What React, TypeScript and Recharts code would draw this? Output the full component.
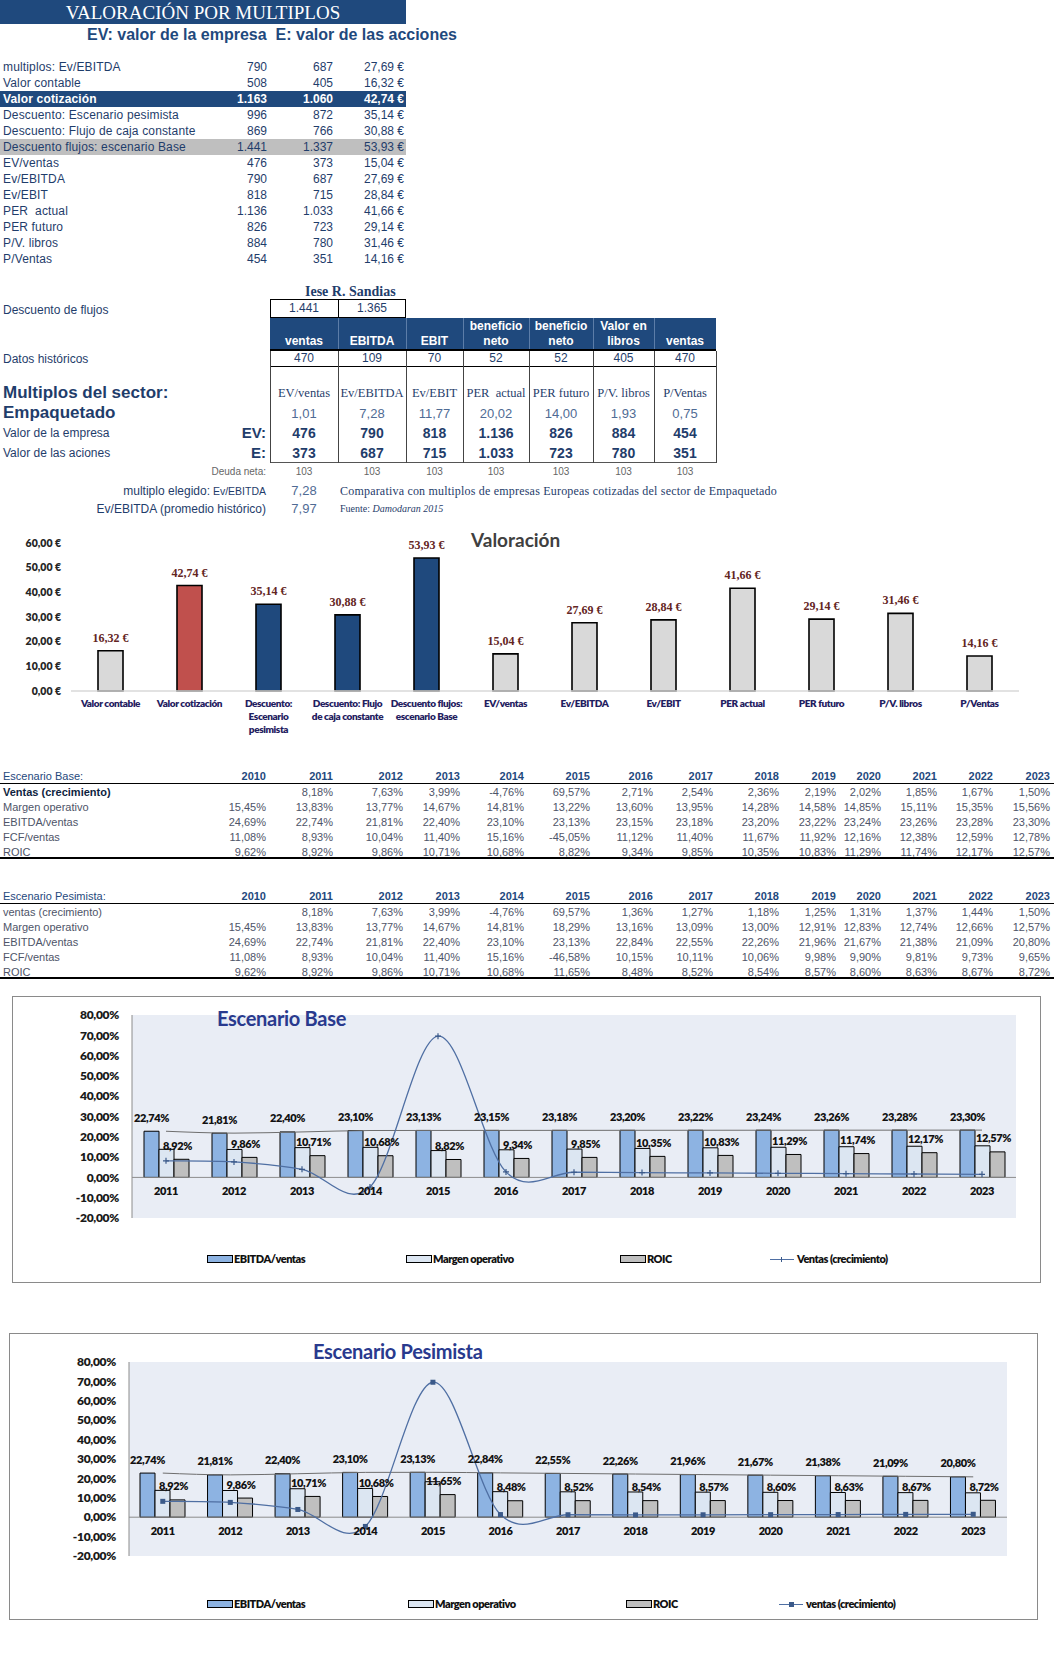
import React from 'react';
import {
  Bar,
  BarChart,
  CartesianGrid,
  Cell,
  ComposedChart,
  LabelList,
  Line,
  ReferenceLine,
  XAxis,
  YAxis,
} from 'recharts';

// ---------- valoración por múltiplos ----------
const METHODS = [
  'multiplos: Ev/EBITDA',
  'Valor contable',
  'Valor cotización',
  'Descuento: Escenario pesimista',
  'Descuento: Flujo de caja constante',
  'Descuento flujos: escenario Base',
  'EV/ventas',
  'Ev/EBITDA',
  'Ev/EBIT',
  'PER  actual',
  'PER futuro',
  'P/V. libros',
  'P/Ventas',
];
const METHOD_EV = [790, 508, 1163, 996, 869, 1441, 476, 790, 818, 1136, 826, 884, 454];
const METHOD_E = [687, 405, 1060, 872, 766, 1337, 373, 687, 715, 1033, 723, 780, 351];
const METHOD_PRICE = [27.69, 16.32, 42.74, 35.14, 30.88, 53.93, 15.04, 27.69, 28.84, 41.66, 29.14, 31.46, 14.16];

// ---------- múltiplos del sector ----------
const DCF_VALUES = [1441, 1365];
const HIST_HEADERS = ['ventas', 'EBITDA', 'EBIT', 'beneficio\nneto', 'beneficio\nneto', 'Valor en\nlibros', 'ventas'];
const HIST_VALUES = [470, 109, 70, 52, 52, 405, 470];
const SECTOR_MULTIPLES = ['EV/ventas', 'Ev/EBITDA', 'Ev/EBIT', 'PER  actual', 'PER futuro', 'P/V. libros', 'P/Ventas'];
const SECTOR_VALUES = [1.01, 7.28, 11.77, 20.02, 14.0, 1.93, 0.75];
const SECTOR_EV = [476, 790, 818, 1136, 826, 884, 454];
const SECTOR_E = [373, 687, 715, 1033, 723, 780, 351];
const NET_DEBT = [103, 103, 103, 103, 103, 103, 103];
const CHOSEN_MULTIPLE = 7.28;
const HIST_AVG_MULTIPLE = 7.97;

// ---------- gráfico valoración ----------
const VAL_CATEGORIES = [
  'Valor contable',
  'Valor cotización',
  'Descuento: Escenario pesimista',
  'Descuento: Flujo de caja constante',
  'Descuento flujos: escenario Base',
  'EV/ventas',
  'Ev/EBITDA',
  'Ev/EBIT',
  'PER  actual',
  'PER futuro',
  'P/V. libros',
  'P/Ventas',
];
// the same names as the axis shows them, wrapped
const VAL_TICK_LABELS = [
  'Valor contable',
  'Valor cotización',
  'Descuento:\nEscenario\npesimista',
  'Descuento: Flujo\nde caja constante',
  'Descuento flujos:\nescenario Base',
  'EV/ventas',
  'Ev/EBITDA',
  'Ev/EBIT',
  'PER  actual',
  'PER futuro',
  'P/V. libros',
  'P/Ventas',
];
const VAL_PRICE = [16.32, 42.74, 35.14, 30.88, 53.93, 15.04, 27.69, 28.84, 41.66, 29.14, 31.46, 14.16];
const VAL_TICKS = [0, 10, 20, 30, 40, 50, 60];

// ---------- escenarios ----------
const YEARS_ALL = ['2010', '2011', '2012', '2013', '2014', '2015', '2016', '2017', '2018', '2019', '2020', '2021', '2022', '2023'];
const BASE_ROWS = ['Ventas (crecimiento)', 'Margen operativo', 'EBITDA/ventas', 'FCF/ventas', 'ROIC'];
const PES_ROWS = ['ventas (crecimiento)', 'Margen operativo', 'EBITDA/ventas', 'FCF/ventas', 'ROIC'];

const BASE_VENTAS = [null, 8.18, 7.63, 3.99, -4.76, 69.57, 2.71, 2.54, 2.36, 2.19, 2.02, 1.85, 1.67, 1.5];
const BASE_MARGEN = [15.45, 13.83, 13.77, 14.67, 14.81, 13.22, 13.6, 13.95, 14.28, 14.58, 14.85, 15.11, 15.35, 15.56];
const BASE_EBITDA = [24.69, 22.74, 21.81, 22.4, 23.1, 23.13, 23.15, 23.18, 23.2, 23.22, 23.24, 23.26, 23.28, 23.3];
const BASE_FCF = [11.08, 8.93, 10.04, 11.4, 15.16, -45.05, 11.12, 11.4, 11.67, 11.92, 12.16, 12.38, 12.59, 12.78];
const BASE_ROIC = [9.62, 8.92, 9.86, 10.71, 10.68, 8.82, 9.34, 9.85, 10.35, 10.83, 11.29, 11.74, 12.17, 12.57];

const PES_VENTAS = [null, 8.18, 7.63, 3.99, -4.76, 69.57, 1.36, 1.27, 1.18, 1.25, 1.31, 1.37, 1.44, 1.5];
const PES_MARGEN = [15.45, 13.83, 13.77, 14.67, 14.81, 18.29, 13.16, 13.09, 13.0, 12.91, 12.83, 12.74, 12.66, 12.57];
const PES_EBITDA = [24.69, 22.74, 21.81, 22.4, 23.1, 23.13, 22.84, 22.55, 22.26, 21.96, 21.67, 21.38, 21.09, 20.8];
const PES_FCF = [11.08, 8.93, 10.04, 11.4, 15.16, -46.58, 10.15, 10.11, 10.06, 9.98, 9.9, 9.81, 9.73, 9.65];
const PES_ROIC = [9.62, 8.92, 9.86, 10.71, 10.68, 11.65, 8.48, 8.52, 8.54, 8.57, 8.6, 8.63, 8.67, 8.72];

const PCT_TICKS = [-20, -10, 0, 10, 20, 30, 40, 50, 60, 70, 80];

// ---------- estilos ----------
const SANS = '"Liberation Sans", Arial, sans-serif';
const SERIF = '"Liberation Serif", "Times New Roman", serif';
const LATO = 'Lato, "Open Sans", sans-serif';
const NAVY = '#1F497D';
const INK = '#1F3D6B';
const GREY_TXT = '#4E5468';
const PLOT_BG = '#E9EDF5';
const COL_X = [270, 338, 406, 463, 529, 593, 654, 716];
const YEAR_RIGHT = [266, 333, 403, 460, 524, 590, 653, 713, 779, 836, 881, 937, 993, 1050];
const VAL_COLORS: Record<string, string> = {
  'Valor cotización': '#C0504D',
  'Descuento: Escenario pesimista': '#1F497D',
  'Descuento: Flujo de caja constante': '#1F497D',
  'Descuento flujos: escenario Base': '#1F497D',
};

const thousands = (n: number) => String(n).replace(/\B(?=(\d{3})+(?!\d))/g, '.');
const dec2 = (n: number) => n.toFixed(2).replace('.', ',');
const euro = (n: number) => `${dec2(n)} €`;
const pct = (n: number) => `${dec2(n)}%`;

type TxtProps = {
  x: number;
  y: number;
  align?: 'left' | 'right' | 'center';
  size?: number;
  bold?: boolean;
  color?: string;
  font?: string;
  style?: React.CSSProperties;
  children: React.ReactNode;
};

function Txt({ x, y, align = 'left', size = 12, bold, color = INK, font = SANS, style, children }: TxtProps) {
  const w = 500;
  const left = align === 'left' ? x : align === 'right' ? x - w : x - w / 2;
  return (
    <div
      style={{
        position: 'absolute',
        left,
        top: y - 10,
        width: w,
        height: 20,
        lineHeight: '20px',
        textAlign: align,
        fontSize: size,
        fontWeight: bold ? 700 : 400,
        color,
        fontFamily: font,
        whiteSpace: 'pre',
        ...style,
      }}
    >
      {children}
    </div>
  );
}

function Rule({ x, y, w, h, color = '#000' }: { x: number; y: number; w: number; h: number; color?: string }) {
  return <div style={{ position: 'absolute', left: x, top: y, width: w, height: h, background: color }} />;
}

function TopTable() {
  return (
    <>
      <div
        style={{
          position: 'absolute',
          left: 0,
          top: 0,
          width: 406,
          height: 24,
          background: NAVY,
          color: '#fff',
          fontFamily: SERIF,
          fontSize: 19,
          lineHeight: '25px',
          textAlign: 'center',
        }}
      >
        VALORACIÓN POR MULTIPLOS
      </div>
      <Txt x={87} y={35} size={16} bold color={NAVY}>
        EV: valor de la empresa  E: valor de las acciones
      </Txt>
      {METHODS.map((m, i) => {
        const top = 59 + 16 * i;
        const dark = m === 'Valor cotización';
        const grey = m === 'Descuento flujos: escenario Base';
        const color = dark ? '#fff' : INK;
        return (
          <React.Fragment key={m}>
            {(dark || grey) && <Rule x={0} y={top} w={406} h={16} color={dark ? NAVY : '#BFBFBF'} />}
            <Txt x={3} y={top + 8} color={color} bold={dark} style={{ letterSpacing: 0.15 }}>{m}</Txt>
            <Txt x={267} y={top + 8} align="right" color={color} bold={dark}>{thousands(METHOD_EV[i])}</Txt>
            <Txt x={333} y={top + 8} align="right" color={color} bold={dark}>{thousands(METHOD_E[i])}</Txt>
            <Txt x={404} y={top + 8} align="right" color={color} bold={dark}>{euro(METHOD_PRICE[i])}</Txt>
          </React.Fragment>
        );
      })}
    </>
  );
}

function SectorTable() {
  const centers = COL_X.slice(0, -1).map((x, i) => (x + COL_X[i + 1]) / 2);
  return (
    <>
      <Txt x={305} y={292} size={14} bold font={SERIF} color={INK}>Iese R. Sandias</Txt>
      <Txt x={3} y={310}>Descuento de flujos</Txt>
      <div style={{ position: 'absolute', left: 270, top: 299, width: 136, height: 19, border: '1px solid #000', boxSizing: 'border-box' }} />
      <Rule x={338} y={299} w={1} h={19} />
      {DCF_VALUES.map((v, i) => (
        <Txt key={i} x={centers[i]} y={308} align="center">{thousands(v)}</Txt>
      ))}

      <Rule x={270} y={318} w={446} h={32} color={NAVY} />
      {HIST_HEADERS.map((h, i) => (
        <React.Fragment key={i}>
          {i > 0 && <Rule x={COL_X[i]} y={318} w={1} h={32} color="#5C7DA8" />}
          <div
            style={{
              position: 'absolute',
              left: COL_X[i],
              top: 317,
              width: COL_X[i + 1] - COL_X[i],
              height: 32,
              display: 'flex',
              alignItems: 'flex-end',
              justifyContent: 'center',
              textAlign: 'center',
              color: '#fff',
              fontWeight: 700,
              fontSize: 12,
              lineHeight: '15px',
              whiteSpace: 'pre',
              fontFamily: SANS,
            }}
          >
            {h}
          </div>
        </React.Fragment>
      ))}
      <Rule x={270} y={349} w={446} h={2} />

      <Txt x={3} y={359}>Datos históricos</Txt>
      {HIST_VALUES.map((v, i) => (
        <Txt key={i} x={centers[i]} y={358} align="center">{String(v)}</Txt>
      ))}
      <Rule x={270} y={366} w={446} h={1} />
      <Rule x={270} y={462} w={447} h={1} color="#555" />
      {COL_X.map((x, i) => (
        <Rule key={i} x={x} y={351} w={1} h={112} color="#444" />
      ))}

      <Txt x={3} y={393} size={17} bold>Multiplos del sector:</Txt>
      <Txt x={3} y={413} size={17} bold>Empaquetado</Txt>
      <Txt x={3} y={433}>Valor de la empresa</Txt>
      <Txt x={3} y={453}>Valor de las aciones</Txt>
      <Txt x={266} y={433} align="right" size={15} bold>EV:</Txt>
      <Txt x={266} y={453} align="right" size={15} bold>E:</Txt>
      {SECTOR_MULTIPLES.map((m, i) => (
        <React.Fragment key={i}>
          <Txt x={centers[i]} y={393} align="center" font={SERIF} size={12.5}>{m}</Txt>
          <Txt x={centers[i]} y={414} align="center" size={13} color="#4F6B94">{dec2(SECTOR_VALUES[i])}</Txt>
          <Txt x={centers[i]} y={433} align="center" size={14} bold>{thousands(SECTOR_EV[i])}</Txt>
          <Txt x={centers[i]} y={453} align="center" size={14} bold>{thousands(SECTOR_E[i])}</Txt>
          <Txt x={centers[i]} y={472} align="center" size={10} color="#666">{String(NET_DEBT[i])}</Txt>
        </React.Fragment>
      ))}
      <Txt x={266} y={472} align="right" size={10} color="#666">Deuda neta:</Txt>

      <Txt x={210} y={491} align="right">multiplo elegido:</Txt>
      <Txt x={266} y={491} align="right" size={10.5}>Ev/EBITDA</Txt>
      <Txt x={centers[0]} y={491} align="center" size={13} color="#4F6B94">{dec2(CHOSEN_MULTIPLE)}</Txt>
      <Txt x={266} y={509} align="right">Ev/EBITDA (promedio histórico)</Txt>
      <Txt x={centers[0]} y={509} align="center" size={13} color="#4F6B94">{dec2(HIST_AVG_MULTIPLE)}</Txt>
      <Txt x={340} y={491} font={SERIF} size={12} color={INK} style={{ letterSpacing: 0.2 }}>
        Comparativa con multiplos de empresas Europeas cotizadas del sector de Empaquetado
      </Txt>
      <Txt x={340} y={509} font={SERIF} size={10} color={INK}>
        Fuente: <i>Damodaran 2015</i>
      </Txt>
    </>
  );
}

function CategoryTick(props: any) {
  const { x, y, index } = props;
  const lines = VAL_TICK_LABELS[index].split('\n');
  return (
    <text
      x={x}
      y={y + 16}
      textAnchor="middle"
      fill="#1F2060"
      style={{ fontFamily: LATO, fontSize: 10, fontWeight: 800, letterSpacing: -0.4 }}
    >
      {lines.map((l, i) => (
        <tspan key={i} x={x} dy={i === 0 ? 0 : 13}>
          {l}
        </tspan>
      ))}
    </text>
  );
}

function PriceLabel(props: any) {
  const x = Number(props.x);
  const y = Number(props.y);
  const w = Number(props.width);
  return (
    <text
      x={x + w / 2}
      y={y - 13}
      textAnchor="middle"
      dominantBaseline="central"
      fill="#632523"
      style={{ fontFamily: SERIF, fontSize: 12, fontWeight: 700 }}
    >
      {euro(Number(props.value))}
    </text>
  );
}

function ValuationChart() {
  const data = VAL_CATEGORIES.map((name, i) => ({ name, price: VAL_PRICE[i] }));
  return (
    <>
      <Txt x={471} y={540} size={19} bold font={LATO} color="#404040">Valoración</Txt>
      <div style={{ position: 'absolute', left: 0, top: 520 }}>
        <BarChart width={1054} height={230} data={data} margin={{ top: 23, right: 35, bottom: 0, left: 0 }}>
          <XAxis
            dataKey="name"
            interval={0}
            height={59}
            axisLine={{ stroke: '#D9D9D9', strokeWidth: 1.5 }}
            tickLine={false}
            tickSize={0}
            tickMargin={0}
            tick={CategoryTick}
          />
          <YAxis
            domain={[0, 60]}
            ticks={VAL_TICKS}
            interval={0}
            width={71}
            axisLine={false}
            tickLine={false}
            tickSize={0}
            tickMargin={10}
            tickFormatter={euro}
            tick={{ fontFamily: LATO, fontSize: 10.5, fontWeight: 800, fill: '#262626' }}
          />
          <Bar dataKey="price" barSize={25} stroke="#000" strokeWidth={1.6} isAnimationActive={false}>
            {data.map((d) => (
              <Cell key={d.name} fill={VAL_COLORS[d.name] ?? '#D9D9D9'} />
            ))}
            <LabelList dataKey="price" content={PriceLabel} />
          </Bar>
        </BarChart>
      </div>
    </>
  );
}

type ScenarioTableProps = {
  top: number;
  title: string;
  rows: string[];
  series: (number | null)[][];
  boldFirst?: boolean;
};

function ScenarioTable({ top, title, rows, series, boldFirst }: ScenarioTableProps) {
  return (
    <>
      <Txt x={3} y={top} size={11} color={NAVY}>{title}</Txt>
      {YEARS_ALL.map((yr, i) => (
        <Txt key={yr} x={YEAR_RIGHT[i]} y={top} align="right" size={11} bold color={NAVY}>{yr}</Txt>
      ))}
      <Rule x={0} y={top + 7} w={1054} h={1} />
      {rows.map((r, ri) => {
        const y = top + 16 + 15 * ri;
        const strong = boldFirst && ri === 0;
        return (
          <React.Fragment key={r}>
            <Txt x={3} y={y} size={11} bold={strong} color={strong ? '#0F1F3F' : GREY_TXT}>{r}</Txt>
            {series[ri].map((v, i) =>
              v == null ? null : (
                <Txt key={i} x={YEAR_RIGHT[i]} y={y} align="right" size={11} color={GREY_TXT}>{pct(v)}</Txt>
              ),
            )}
          </React.Fragment>
        );
      })}
      <Rule x={0} y={top + 81} w={1054} h={2} />
    </>
  );
}

// Excel-like smoothed line (Catmull-Rom through every point)
function smoothCurve(context: any) {
  let pts: number[][] = [];
  return {
    areaStart() {},
    areaEnd() {},
    lineStart() {
      pts = [];
    },
    point(x: number, y: number) {
      pts.push([+x, +y]);
    },
    lineEnd() {
      const n = pts.length;
      if (!n) return;
      context.moveTo(pts[0][0], pts[0][1]);
      for (let i = 0; i < n - 1; i++) {
        const p0 = pts[i > 0 ? i - 1 : i];
        const p1 = pts[i];
        const p2 = pts[i + 1];
        const p3 = pts[i + 2 < n ? i + 2 : i + 1];
        context.bezierCurveTo(
          p1[0] + (p2[0] - p0[0]) / 6,
          p1[1] + (p2[1] - p0[1]) / 6,
          p2[0] - (p3[0] - p1[0]) / 6,
          p2[1] - (p3[1] - p1[1]) / 6,
          p2[0],
          p2[1],
        );
      }
    },
  };
}

const pctLabel = (dx: number) => (props: any) => {
  const x = Number(props.x);
  const y = Number(props.y);
  const w = Number(props.width);
  return (
    <text
      x={x + w / 2 + dx}
      y={y - 14}
      textAnchor="middle"
      dominantBaseline="central"
      fill="#111"
      style={{ fontFamily: LATO, fontSize: 11, fontWeight: 800, letterSpacing: -0.4 }}
    >
      {pct(Number(props.value))}
    </text>
  );
};

function YearLabel(props: any) {
  return (
    <text
      x={Number(props.x)}
      y={Number(props.y) + 13}
      textAnchor="middle"
      dominantBaseline="central"
      fill="#111"
      style={{ fontFamily: LATO, fontSize: 11, fontWeight: 800, letterSpacing: -0.4 }}
    >
      {props.value}
    </text>
  );
}

type ScenarioChartProps = {
  top: number;
  margin: { top: number; right: number; bottom: number; left: number };
  yWidth: number;
  frame: { left: number; top: number; width: number; height: number };
  title: string;
  titleX: number;
  titleY: number;
  legendY: number;
  legendX: number[];
  lineName: string;
  marker: 'plus' | 'square';
  ventas: (number | null)[];
  margen: number[];
  ebitda: number[];
  roic: number[];
};

function ScenarioChart(p: ScenarioChartProps) {
  const data = YEARS_ALL.slice(1).map((year, i) => ({
    year,
    ebitda: p.ebitda[i + 1],
    margen: p.margen[i + 1],
    roic: p.roic[i + 1],
    ventas: p.ventas[i + 1],
  }));
  const lineColor = '#4F6FA3';
  const dot = (d: any) =>
    p.marker === 'plus' ? (
      <path
        key={`d${d.index}`}
        d={`M${d.cx - 3},${d.cy}h6M${d.cx},${d.cy - 3}v6`}
        stroke="#3B5A8A"
        strokeWidth={1.2}
      />
    ) : (
      <rect key={`d${d.index}`} x={d.cx - 2.5} y={d.cy - 2.5} width={5} height={5} fill="#3B5A8A" />
    );
  const legend = [
    { name: 'EBITDA/ventas', fill: '#8DB3E2' },
    { name: 'Margen operativo', fill: '#DCE6F2' },
    { name: 'ROIC', fill: '#BFBFBF' },
  ];
  const legendText: React.CSSProperties = { letterSpacing: -0.5, fontWeight: 800 };
  return (
    <>
      <div
        style={{
          position: 'absolute',
          left: p.frame.left,
          top: p.frame.top,
          width: p.frame.width,
          height: p.frame.height,
          border: '1px solid #8A8A8A',
          boxSizing: 'border-box',
        }}
      />
      <div style={{ position: 'absolute', left: 0, top: p.top }}>
        <ComposedChart width={1054} height={300} data={data} margin={p.margin} barGap={0}>
          <CartesianGrid horizontal={false} vertical={false} fill={PLOT_BG} />
          <XAxis dataKey="year" hide />
          <YAxis
            domain={[-20, 80]}
            ticks={PCT_TICKS}
            interval={0}
            width={p.yWidth}
            axisLine={{ stroke: '#8C8C8C' }}
            tickLine={false}
            tickSize={0}
            tickMargin={13}
            tickFormatter={pct}
            tick={{ fontFamily: LATO, fontSize: 12, fontWeight: 800, fill: '#1A1A1A', letterSpacing: -0.3 }}
          />
          <ReferenceLine y={0} stroke="#8C8C8C" />
          <Bar dataKey="ebitda" name="EBITDA/ventas" barSize={15} fill="#8DB3E2" stroke="#000" strokeWidth={1} isAnimationActive={false}>
            <LabelList dataKey="ebitda" content={pctLabel(0)} />
          </Bar>
          <Bar dataKey="margen" name="Margen operativo" barSize={15} fill="#DCE6F2" stroke="#000" strokeWidth={1} isAnimationActive={false} />
          <Bar dataKey="roic" name="ROIC" barSize={15} fill="#BFBFBF" stroke="#000" strokeWidth={1} isAnimationActive={false}>
            <LabelList dataKey="roic" content={pctLabel(-4)} />
          </Bar>
          <Line dataKey="ebitda" type="monotone" stroke="#6E6E6E" strokeWidth={1} dot={false} legendType="none" isAnimationActive={false} />
          <Line dataKey="ventas" name={p.lineName} type={smoothCurve as any} stroke={lineColor} strokeWidth={1.3} dot={dot} isAnimationActive={false} />
          <Line dataKey={() => 0} stroke="none" dot={false} legendType="none" isAnimationActive={false}>
            <LabelList dataKey="year" content={YearLabel} />
          </Line>
        </ComposedChart>
      </div>
      <Txt x={p.titleX} y={p.titleY} size={20} bold font={LATO} color="#293A8E" style={{ letterSpacing: -0.3 }}>
        {p.title}
      </Txt>
      {legend.map((item, i) => (
        <React.Fragment key={item.name}>
          <div
            style={{
              position: 'absolute',
              left: p.legendX[i],
              top: p.legendY - 4,
              width: 26,
              height: 8,
              background: item.fill,
              border: '1px solid #000',
              boxSizing: 'border-box',
            }}
          />
          <Txt x={p.legendX[i] + 27} y={p.legendY} size={11} bold font={LATO} color="#111" style={legendText}>
            {item.name}
          </Txt>
        </React.Fragment>
      ))}
      <Rule x={p.legendX[3]} y={p.legendY} w={24} h={1} color={lineColor} />
      {p.marker === 'plus' ? (
        <Rule x={p.legendX[3] + 11} y={p.legendY - 2} w={1} h={5} color="#3B5A8A" />
      ) : (
        <Rule x={p.legendX[3] + 10} y={p.legendY - 2} w={5} h={5} color="#3B5A8A" />
      )}
      <Txt x={p.legendX[3] + 27} y={p.legendY} size={11} bold font={LATO} color="#111" style={legendText}>
        {p.lineName}
      </Txt>
    </>
  );
}

export default function App() {
  return (
    <div
      style={{
        position: 'absolute',
        left: 0,
        top: 0,
        width: 1054,
        height: 1680,
        overflow: 'hidden',
        background: '#fff',
        fontFamily: SANS,
      }}
    >
      <TopTable />
      <SectorTable />
      <ValuationChart />
      <ScenarioTable
        top={776}
        title="Escenario Base:"
        rows={BASE_ROWS}
        series={[BASE_VENTAS, BASE_MARGEN, BASE_EBITDA, BASE_FCF, BASE_ROIC]}
        boldFirst
      />
      <ScenarioTable
        top={896}
        title="Escenario Pesimista:"
        rows={PES_ROWS}
        series={[PES_VENTAS, PES_MARGEN, PES_EBITDA, PES_FCF, PES_ROIC]}
      />
      <ScenarioChart
        top={990}
        margin={{ top: 25, right: 38, bottom: 72, left: 0 }}
        yWidth={132}
        frame={{ left: 12, top: 996, width: 1029, height: 287 }}
        title="Escenario Base"
        titleX={217}
        titleY={1018}
        legendY={1259}
        legendX={[207, 406, 620, 770]}
        lineName="Ventas (crecimiento)"
        marker="plus"
        ventas={BASE_VENTAS}
        margen={BASE_MARGEN}
        ebitda={BASE_EBITDA}
        roic={BASE_ROIC}
      />
      <ScenarioChart
        top={1320}
        margin={{ top: 42, right: 47, bottom: 64, left: 0 }}
        yWidth={129}
        frame={{ left: 9, top: 1333, width: 1029, height: 287 }}
        title="Escenario Pesimista"
        titleX={313}
        titleY={1351}
        legendY={1604}
        legendX={[207, 408, 626, 779]}
        lineName="ventas (crecimiento)"
        marker="square"
        ventas={PES_VENTAS}
        margen={PES_MARGEN}
        ebitda={PES_EBITDA}
        roic={PES_ROIC}
      />
    </div>
  );
}
